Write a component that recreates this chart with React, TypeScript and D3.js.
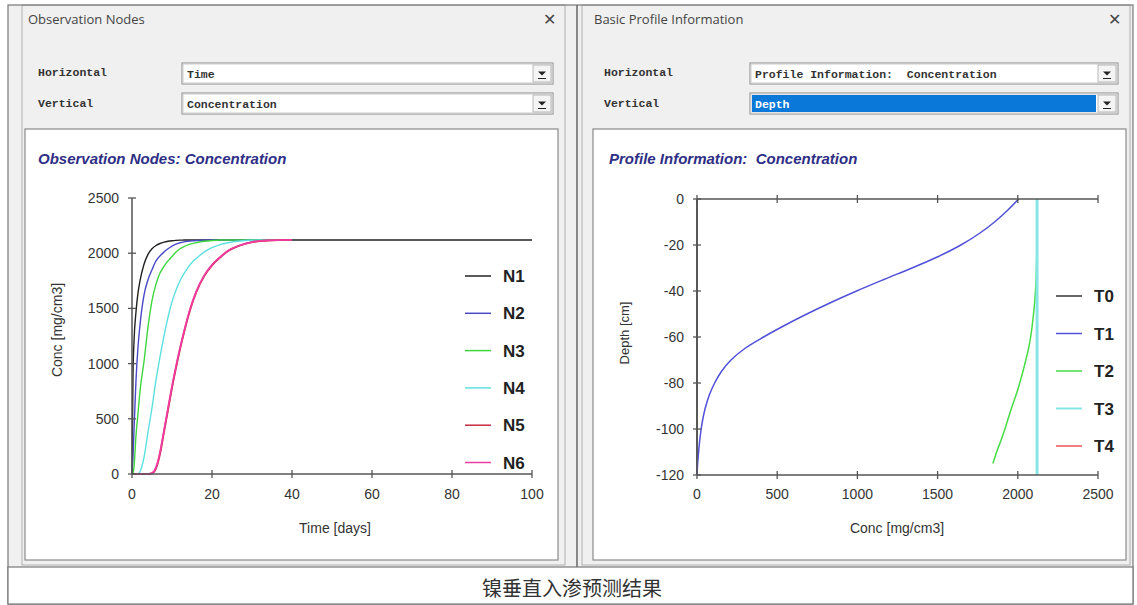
import React, { useEffect } from "react";
import * as d3 from "d3";

// ---------- data ----------
const TIME = [0, 0.25, 0.5, 1, 1.5, 2, 3, 4, 5, 6, 7, 8, 9, 10, 11, 12, 13, 14, 15, 16, 18, 20, 22, 24, 27, 30, 34, 40, 100];
const N1 = [0, 900, 1200, 1470, 1640, 1750, 1900, 1990, 2040, 2070, 2088, 2100, 2108, 2113, 2116, 2118, 2119, 2120, 2120, 2120, 2120, 2120, 2120, 2120, 2120, 2120, 2120, 2120, 2120];
const N2 = [0, 150, 400, 850, 1150, 1350, 1620, 1760, 1850, 1930, 1975, 2010, 2040, 2065, 2082, 2095, 2103, 2108, 2112, 2115, 2118, 2120, 2120, 2120, 2120, 2120, 2120, 2120, null];
const N3 = [0, 10, 60, 350, 550, 750, 1020, 1330, 1570, 1720, 1820, 1880, 1930, 1970, 2010, 2040, 2060, 2075, 2087, 2095, 2108, 2115, 2119, 2120, 2120, 2120, 2120, 2120, null];
const N4 = [0, 0, 0, 0, 0, 20, 150, 380, 600, 850, 1060, 1250, 1420, 1560, 1665, 1750, 1815, 1870, 1915, 1950, 2010, 2050, 2078, 2095, 2110, 2117, 2120, 2120, null];
const N5 = [0, 0, 0, 0, 0, 0, 0, 0, 5, 50, 180, 380, 580, 780, 960, 1130, 1280, 1420, 1540, 1640, 1790, 1890, 1960, 2020, 2070, 2100, 2115, 2120, null];
const N6 = [0, 0, 0, 0, 0, 0, 0, 0, 8, 60, 195, 395, 595, 795, 975, 1140, 1290, 1430, 1548, 1648, 1795, 1895, 1963, 2022, 2072, 2101, 2116, 2120, null];
const NODE_NAMES = ["N1", "N2", "N3", "N4", "N5", "N6"];
const NODE_SERIES = [N1, N2, N3, N4, N5, N6];
const NODE_COLORS = ["#222222", "#4848c8", "#3ed63e", "#5ee0e0", "#c8283c", "#f03ca0"];

const DEPTH = [0, -5, -10, -15, -20, -25, -30, -35, -40, -45, -50, -55, -60, -65, -70, -75, -80, -85, -90, -95, -100, -105, -110, -115, -120];
const T0 = [0, 0, 0, 0, 0, 0, 0, 0, 0, 0, 0, 0, 0, 0, 0, 0, 0, 0, 0, 0, 0, 0, 0, 0, 0];
const T1 = [2005, 1935, 1855, 1760, 1645, 1505, 1340, 1165, 995, 835, 685, 545, 415, 298, 212, 152, 110, 78, 55, 38, 26, 17, 10, 4, 0];
const T2 = [2120, 2120, 2120, 2119, 2119, 2118, 2116, 2114, 2110, 2105, 2098, 2090, 2080, 2067, 2050, 2032, 2012, 1990, 1965, 1942, 1920, 1895, 1868, 1845, null];
const T3 = [2120, 2120, 2120, 2120, 2120, 2120, 2120, 2120, 2120, 2120, 2120, 2120, 2120, 2120, 2120, 2120, 2120, 2120, 2120, 2120, 2120, 2120, 2120, 2120, 2120];
const T4 = [2120, 2120, 2120, 2120, 2120, 2120, 2120, 2120, 2120, 2120, 2120, 2120, 2120, 2120, 2120, 2120, 2120, 2120, 2120, 2120, 2120, 2120, 2120, 2120, 2120];
const PROFILE_NAMES = ["T0", "T1", "T2", "T3", "T4"];
const PROFILE_SERIES = [T0, T1, T2, T3, T4];
const PROFILE_COLORS = ["#333333", "#5050d8", "#44dd44", "#86e6e6", "#ee5555"];
const PROFILE_WIDTHS = [1.5, 1.5, 1.5, 3, 1.5];

const TIME_TICKS = [0, 20, 40, 60, 80, 100];
const CONC_TICKS = [0, 500, 1000, 1500, 2000, 2500];
const DEPTH_TICKS = [0, -20, -40, -60, -80, -100, -120];

const CAPTION = "镍垂直入渗预测结果";

// ---------- layout ----------
const W = 1137, H = 605;
const AX = "#555";
const TICKF = "Arial, 'Liberation Sans', sans-serif";
const MONO = "'Liberation Mono', 'DejaVu Sans Mono', monospace";
const PRE = { whiteSpace: "pre" } as any;

function Dropdown({ x, y, w, h, text, selected }: any) {
  return (
    <g>
      <rect x={x} y={y} width={w} height={h} fill="#fff" stroke="#888" strokeWidth={1} />
      <rect x={x + 1} y={y + 1} width={w - 2} height={h - 2} fill="none" stroke="#ccc" strokeWidth={1} />
      {selected && <rect x={x + 2} y={y + 2} width={w - 24} height={h - 4} fill="#0a78d8" />}
      <text x={x + 5} y={y + h / 2 + 4} fontFamily={MONO} fontSize={11.5} fontWeight="bold" fill={selected ? "#fff" : "#333"} style={PRE}>{text}</text>
      <rect x={x + w - 20} y={y + 2} width={18} height={h - 4} fill="#f4f4f4" stroke="#aaa" strokeWidth={0.8} />
      <path d={`M${x + w - 15},${y + h / 2 - 2} L${x + w - 7},${y + h / 2 - 2} L${x + w - 11},${y + h / 2 + 2} Z`} fill="#222" />
      <line x1={x + w - 15} x2={x + w - 7} y1={y + h / 2 + 5} y2={y + h / 2 + 5} stroke="#222" strokeWidth={1} />
    </g>
  );
}

function Header({ x0, x1, title, hText, vText, ddX, vSelected }: any) {
  return (
    <g>
      <text x={x0 + 6} y={24} fontFamily="'Open Sans', 'Noto Sans', sans-serif" fontSize={13} fill="#444">{title}</text>
      <text x={x1 - 22} y={25} fontFamily="'DejaVu Sans', sans-serif" fontSize={16} fill="#444">✕</text>
      <text x={x0 + 16} y={76} fontFamily={MONO} fontSize={11.5} fontWeight="bold" fill="#333">Horizontal</text>
      <text x={x0 + 16} y={107} fontFamily={MONO} fontSize={11.5} fontWeight="bold" fill="#333">Vertical</text>
      <Dropdown x={ddX} y={63} w={x1 - 12 - ddX} h={21} text={hText} />
      <Dropdown x={ddX} y={93} w={x1 - 12 - ddX} h={21} text={vText} selected={vSelected} />
    </g>
  );
}

function Legend({ names, colors, x, y0, dy, widths }: any) {
  return (
    <g>
      {names.map((n: string, i: number) => (
        <g key={n}>
          <line x1={x} x2={x + 26} y1={y0 + i * dy} y2={y0 + i * dy} stroke={colors[i]} strokeWidth={widths ? Math.min(widths[i], 2) : 1.5} />
          <text x={x + 38} y={y0 + i * dy + 6} fontFamily={TICKF} fontSize={17} fontWeight="bold" fill="#222">{n}</text>
        </g>
      ))}
    </g>
  );
}

export default function App() {
  useEffect(() => {
    document.body.style.margin = "0";
  }, []);

  // left chart scales
  const xL = d3.scaleLinear().domain([0, 100]).range([132, 532]);
  const yL = d3.scaleLinear().domain([0, 2500]).range([474, 198]);
  const lineL = (vals: (number | null)[]) =>
    d3.line<number>()
      .defined((_, i) => vals[i] != null)
      .x((_, i) => xL(TIME[i]))
      .y((_, i) => yL(vals[i] as number))
      .curve(d3.curveMonotoneX)(TIME as any) || "";

  // right chart scales
  const xR = d3.scaleLinear().domain([0, 2500]).range([697, 1098]);
  const yR = d3.scaleLinear().domain([-120, 0]).range([475, 199]);
  const lineR = (vals: (number | null)[]) =>
    d3.line<number>()
      .defined((_, i) => vals[i] != null)
      .x((_, i) => xR(vals[i] as number))
      .y((_, i) => yR(DEPTH[i]))
      .curve(d3.curveCatmullRom.alpha(0.5))(DEPTH as any) || "";

  const drawOrderR = [0, 4, 2, 3, 1];

  return (
    <svg width={W} height={H} style={{ display: "block", background: "#fff" }}>
      {/* backgrounds */}
      <rect x={8} y={5} width={1125} height={562} fill="#f0f0f0" />
      {/* left panel window */}
      <rect x={22} y={5} width={543} height={560} fill="#f0f0f0" stroke="#b0b0b0" />
      <rect x={25} y={129} width={533} height={431} fill="#fff" stroke="#8a8a8a" strokeWidth={1.2} />
      {/* right panel window */}
      <rect x={582} y={5} width={548} height={560} fill="#f0f0f0" stroke="#b0b0b0" />
      <rect x={593} y={129} width={533} height={431} fill="#fff" stroke="#8a8a8a" strokeWidth={1.2} />
      {/* table frame */}
      <rect x={8} y={5} width={1125} height={599} fill="none" stroke="#777" strokeWidth={1.2} />
      <line x1={577} x2={577} y1={5} y2={567} stroke="#666" strokeWidth={1.5} />
      <rect x={8} y={567} width={1125} height={37} fill="#fff" stroke="#777" strokeWidth={1.2} />
      <text x={572} y={596} textAnchor="middle" fontFamily="'Noto Sans CJK SC', sans-serif" fontSize={20} fill="#333">{CAPTION}</text>

      <Header x0={22} x1={565} title="Observation Nodes" hText="Time" vText="Concentration" ddX={182} />
      <Header x0={588} x1={1130} title="Basic Profile Information" hText="Profile Information:  Concentration" vText="Depth" ddX={750} vSelected />

      {/* ---------- left chart ---------- */}
      <text x={38} y={164} fontFamily={TICKF} fontSize={15} fontWeight="bold" fontStyle="italic" fill="#2e2e85">Observation Nodes: Concentration</text>
      {NODE_SERIES.map((s, i) => (
        <path key={i} d={lineL(s)} fill="none" stroke={NODE_COLORS[i]} strokeWidth={i >= 4 ? 1.8 : 1.4} />
      ))}
      <line x1={xL(0)} x2={xL(0)} y1={yL(2500)} y2={yL(0)} stroke={AX} strokeWidth={1.5} />
      <line x1={xL(0)} x2={xL(100)} y1={yL(0)} y2={yL(0)} stroke={AX} strokeWidth={1.5} />
      {CONC_TICKS.map((t) => (
        <g key={t}>
          <line x1={xL(0) - 4} x2={xL(0) + 4} y1={yL(t)} y2={yL(t)} stroke={AX} strokeWidth={1.3} />
          <text x={119} y={yL(t) + 5} textAnchor="end" fontFamily={TICKF} fontSize={14} fill="#333">{t}</text>
        </g>
      ))}
      {TIME_TICKS.map((t) => (
        <g key={t}>
          <line x1={xL(t)} x2={xL(t)} y1={yL(0) - 4} y2={yL(0) + 4} stroke={AX} strokeWidth={1.3} />
          <text x={xL(t)} y={499} textAnchor="middle" fontFamily={TICKF} fontSize={14} fill="#333">{t}</text>
        </g>
      ))}
      <text transform={`translate(62,330) rotate(-90)`} textAnchor="middle" fontFamily={TICKF} fontSize={14} fill="#333">Conc [mg/cm3]</text>
      <text x={335} y={533} textAnchor="middle" fontFamily={TICKF} fontSize={14} fill="#333">Time [days]</text>
      <Legend names={NODE_NAMES} colors={NODE_COLORS} x={465} y0={276} dy={37.3} />

      {/* ---------- right chart ---------- */}
      <text x={609} y={164} fontFamily={TICKF} fontSize={15} fontWeight="bold" fontStyle="italic" fill="#2e2e85" style={PRE}>Profile Information:  Concentration</text>
      {drawOrderR.map((i) => (
        <path key={i} d={lineR(PROFILE_SERIES[i])} fill="none" stroke={PROFILE_COLORS[i]} strokeWidth={PROFILE_WIDTHS[i]} />
      ))}
      <line x1={xR(0)} x2={xR(0)} y1={yR(0)} y2={yR(-120)} stroke={AX} strokeWidth={1.5} />
      <line x1={xR(0)} x2={xR(2500)} y1={yR(0)} y2={yR(0)} stroke={AX} strokeWidth={1.5} />
      <line x1={xR(0)} x2={xR(2500)} y1={yR(-120)} y2={yR(-120)} stroke={AX} strokeWidth={1.5} />
      {DEPTH_TICKS.map((t) => (
        <g key={t}>
          <line x1={xR(0) - 4} x2={xR(0) + 4} y1={yR(t)} y2={yR(t)} stroke={AX} strokeWidth={1.3} />
          <text x={684} y={yR(t) + 5} textAnchor="end" fontFamily={TICKF} fontSize={14} fill="#333">{t}</text>
        </g>
      ))}
      {CONC_TICKS.map((t) => (
        <g key={t}>
          <line x1={xR(t)} x2={xR(t)} y1={yR(-120) - 4} y2={yR(-120) + 4} stroke={AX} strokeWidth={1.3} />
          <line x1={xR(t)} x2={xR(t)} y1={yR(0) - 4} y2={yR(0) + 4} stroke={AX} strokeWidth={1.3} />
          <text x={xR(t)} y={499} textAnchor="middle" fontFamily={TICKF} fontSize={14} fill="#333">{t}</text>
        </g>
      ))}
      <text transform={`translate(629,333) rotate(-90)`} textAnchor="middle" fontFamily={TICKF} fontSize={13} fill="#333">Depth [cm]</text>
      <text x={897} y={533} textAnchor="middle" fontFamily={TICKF} fontSize={14} fill="#333">Conc [mg/cm3]</text>
      <Legend names={PROFILE_NAMES} colors={PROFILE_COLORS} x={1056} y0={296} dy={37.5} widths={PROFILE_WIDTHS} />
    </svg>
  );
}
